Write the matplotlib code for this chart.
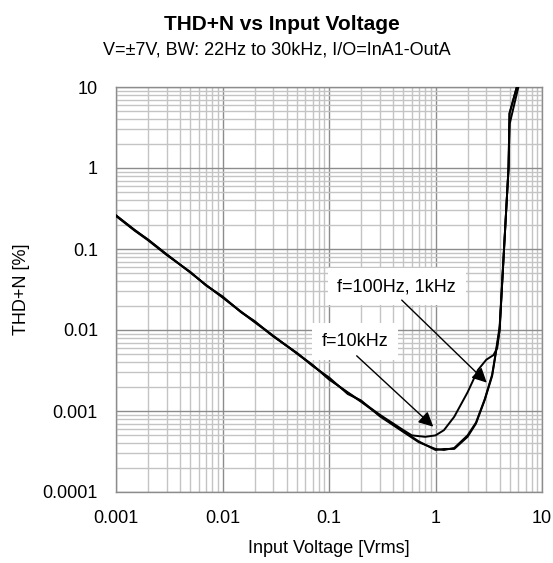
import matplotlib.pyplot as plt

plt.rcParams['font.family'] = ['Liberation Sans', 'DejaVu Sans']

# measured curves (Vrms, THD+N %)
x_100 = [0.001, 0.0015, 0.002, 0.003, 0.005, 0.007, 0.01, 0.015, 0.02, 0.03, 0.05, 0.07,
         0.1, 0.15, 0.2, 0.3, 0.5, 0.7, 1.0, 1.2, 1.5, 2.0, 2.4, 2.9, 3.4, 3.6, 4.0, 4.4,
         4.85, 4.95, 5.8]
y_100 = [0.26, 0.172, 0.13, 0.086, 0.051, 0.036, 0.0255, 0.0168, 0.0127, 0.0085, 0.0051,
         0.0037, 0.0025, 0.00168, 0.0013, 0.00088, 0.00056, 0.00042, 0.00033, 0.00034, 0.00034,
         0.00048, 0.0007, 0.00137, 0.0027, 0.0043, 0.01, 0.1, 1.0, 4.7, 10]

x_1k = [0.001, 0.0015, 0.002, 0.003, 0.005, 0.007, 0.01, 0.015, 0.02, 0.03, 0.05, 0.07,
        0.1, 0.15, 0.2, 0.3, 0.5, 0.7, 1.0, 1.2, 1.5, 2.0, 2.4, 2.9, 3.4, 3.6, 4.0, 4.4,
        4.85, 4.97, 6.0]
y_1k = [0.255, 0.168, 0.128, 0.084, 0.052, 0.0355, 0.026, 0.0165, 0.0129, 0.0083, 0.0052,
        0.0036, 0.0026, 0.00162, 0.00135, 0.00086, 0.00055, 0.00041, 0.00034, 0.00033, 0.00035,
        0.0005, 0.00072, 0.0014, 0.0028, 0.0044, 0.011, 0.1, 1.0, 3.5, 10]

x_10k = [0.001, 0.0015, 0.002, 0.003, 0.005, 0.007, 0.01, 0.015, 0.02, 0.03, 0.05, 0.07,
         0.1, 0.15, 0.2, 0.3, 0.5, 0.6, 0.8, 1.0, 1.2, 1.5, 2.0, 2.5, 3.0, 3.5, 3.8, 4.0,
         4.4, 4.85, 4.95, 5.8]
y_10k = [0.26, 0.17, 0.131, 0.085, 0.0515, 0.0358, 0.0252, 0.0166, 0.0125, 0.0084, 0.0052,
         0.0037, 0.00245, 0.0017, 0.00132, 0.0009, 0.00058, 0.0005, 0.00048, 0.0005, 0.00058,
         0.00085, 0.0017, 0.0032, 0.0043, 0.0049, 0.006, 0.01, 0.1, 1.0, 4.7, 10]

fig = plt.figure(figsize=(5.53, 5.63), dpi=100)
ax = fig.add_axes([116 / 553, 1 - 492 / 563, 426 / 553, 405 / 563])

for xs, ys in [(x_100, y_100), (x_1k, y_1k), (x_10k, y_10k)]:
    ax.plot(xs, ys, color='black', lw=1.4, zorder=3)

ax.set_xscale('log')
ax.set_yscale('log')
ax.set_xlim(0.001, 10)
ax.set_ylim(0.0001, 10)
ax.set_xticks([0.001, 0.01, 0.1, 1, 10])
ax.set_xticklabels(['0.001', '0.01', '0.1', '1', '10'])
ax.set_yticks([0.0001, 0.001, 0.01, 0.1, 1, 10])
ax.set_yticklabels(['0.0001', '0.001', '0.01', '0.1', '1', '10'])
ax.tick_params(which='both', length=0, labelsize=13)
ax.tick_params(axis='y', pad=13)
ax.tick_params(axis='x', pad=13)

ax.grid(which='major', color='#8c8c8c', lw=1.0)
ax.grid(which='minor', color='#c4c4c4', lw=1.0)
ax.set_axisbelow(True)
for s in ax.spines.values():
    s.set_color('#8c8c8c')
    s.set_linewidth(1.0)

ax.set_xlabel('Input Voltage [Vrms]', fontsize=13, labelpad=9)
ax.set_ylabel('THD+N [%]', fontsize=13, labelpad=9)

fig.text(282 / 553, 1 - 25 / 563, 'THD+N vs Input Voltage', ha='center', va='center',
         fontsize=15, fontweight='bold')
fig.text(0.5, 1 - 50 / 563, 'V=\u00b17V, BW: 22Hz to 30kHz, I/O=InA1-OutA', ha='center',
         va='center', fontsize=13)

arrow = dict(arrowstyle='-|>', color='black', lw=1.0, mutation_scale=22, shrinkA=0, shrinkB=0)
ax.annotate('', xy=(3.03, 0.00224), xytext=(0.482, 0.0234), arrowprops=arrow, zorder=5)
ax.annotate('', xy=(0.953, 0.00064), xytext=(0.182, 0.0048), arrowprops=arrow, zorder=5)

box = dict(facecolor='white', edgecolor='none', pad=7)
ax.text(0.432, 0.0344, 'f=100Hz, 1kHz', ha='center', va='center', fontsize=13, bbox=box, zorder=4)
ax.text(0.175, 0.0072, 'f=10kHz', ha='center', va='center', fontsize=13, bbox=box, zorder=4)

fig.savefig('out.png', dpi=100)
